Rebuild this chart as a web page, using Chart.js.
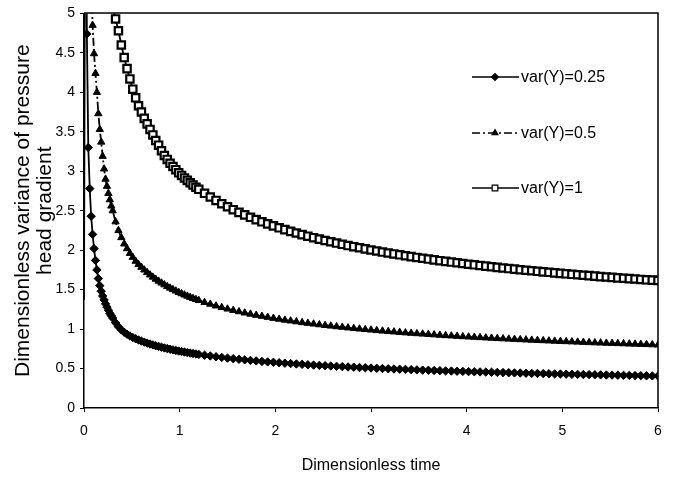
<!DOCTYPE html>
<html><head><meta charset="utf-8">
<script src="https://cdn.jsdelivr.net/npm/chart.js@4/dist/chart.umd.min.js"></script>
<style>html,body{margin:0;padding:0;background:#fff}canvas{display:block}</style>
</head><body>
<canvas id="c" width="674" height="478"></canvas>
<script>
// Dimensionless time (x values)
const times = [0,
 0.015,0.03,0.045,0.06,0.075,0.09,0.105,0.12,0.135,0.15,
 0.165,0.18,0.195,0.21,0.225,0.24,0.255,0.27,0.285,0.30,
 0.33,0.36,0.39,0.42,0.45,0.48,0.51,0.54,0.57,0.60,
 0.63,0.66,0.69,0.72,0.75,0.78,0.81,0.84,0.87,0.90,
 0.93,0.96,0.99,1.02,1.05,1.08,1.11,1.14,1.17,1.20,
 1.26,1.32,1.38,1.44,1.50,1.56,1.62,1.68,1.74,1.80,
 1.86,1.92,1.98,2.04,2.10,2.16,2.22,2.28,2.34,2.40,
 2.46,2.52,2.58,2.64,2.70,2.76,2.82,2.88,2.94,3.00,
 3.06,3.12,3.18,3.24,3.30,3.36,3.42,3.48,3.54,3.60,
 3.66,3.72,3.78,3.84,3.90,3.96,4.02,4.08,4.14,4.20,
 4.26,4.32,4.38,4.44,4.50,4.56,4.62,4.68,4.74,4.80,
 4.86,4.92,4.98,5.04,5.10,5.16,5.22,5.28,5.34,5.40,
 5.46,5.52,5.58,5.64,5.70,5.76,5.82,5.88,5.94,6.00];

const var025 = [1.37,
 8.0,4.74,3.30,2.78,2.43,2.20,2.02,1.87,1.75,1.64,
 1.55,1.48,1.42,1.37,1.32,1.28,1.24,1.20,1.17,1.14,
 1.08,1.03,0.99,0.96,0.935,0.912,0.893,0.877,0.862,0.848,
 0.835,0.822,0.811,0.800,0.789,0.780,0.770,0.761,0.753,0.745,
 0.737,0.729,0.722,0.715,0.709,0.702,0.696,0.690,0.685,0.679,
 0.669,0.659,0.649,0.641,0.632,0.625,0.617,0.610,0.603,0.597,
 0.590,0.584,0.579,0.573,0.568,0.563,0.558,0.553,0.548,0.544,
 0.540,0.536,0.532,0.528,0.524,0.520,0.517,0.513,0.510,0.507,
 0.503,0.500,0.497,0.494,0.491,0.489,0.486,0.483,0.480,0.478,
 0.475,0.473,0.470,0.468,0.466,0.464,0.461,0.459,0.457,0.455,
 0.453,0.451,0.449,0.447,0.445,0.443,0.441,0.439,0.438,0.436,
 0.434,0.432,0.431,0.429,0.427,0.426,0.424,0.423,0.421,0.420,
 0.418,0.417,0.415,0.414,0.413,0.411,0.410,0.408,0.407,0.406];

const var05 = [null,
 null,null,null,null,5.5,4.85,4.49,4.24,4.00,3.73,
 3.53,3.37,3.19,3.03,2.90,2.81,2.72,2.64,2.56,2.50,
 2.36,2.25,2.16,2.08,2.02,1.96,1.91,1.86,1.82,1.784,
 1.750,1.717,1.687,1.659,1.632,1.608,1.584,1.562,1.540,1.520,
 1.501,1.483,1.466,1.449,1.433,1.418,1.403,1.389,1.376,1.363,
 1.338,1.316,1.294,1.274,1.255,1.238,1.221,1.205,1.190,1.176,
 1.163,1.150,1.137,1.126,1.114,1.104,1.093,1.083,1.074,1.065,
 1.056,1.047,1.039,1.031,1.024,1.016,1.009,1.002,0.995,0.989,
 0.982,0.976,0.970,0.965,0.959,0.953,0.948,0.943,0.938,0.933,
 0.928,0.923,0.918,0.914,0.910,0.905,0.901,0.897,0.893,0.889,
 0.885,0.881,0.878,0.874,0.871,0.867,0.864,0.860,0.857,0.854,
 0.851,0.848,0.845,0.842,0.839,0.836,0.833,0.830,0.827,0.825,
 0.822,0.820,0.817,0.815,0.812,0.810,0.807,0.805,0.802,0.800];

const var1 = [null,
 null,null,null,null,null,null,null,null,null,null,
 null,null,null,null,null,null,null,null,null,5.08,
 4.93,4.78,4.60,4.44,4.30,4.17,4.04,3.93,3.83,3.75,
 3.67,3.60,3.53,3.46,3.39,3.33,3.26,3.20,3.15,3.10,
 3.06,3.02,2.98,2.947,2.915,2.884,2.854,2.825,2.797,2.771,
 2.720,2.673,2.630,2.588,2.550,2.513,2.479,2.447,2.416,2.387,
 2.359,2.333,2.308,2.283,2.260,2.238,2.217,2.197,2.177,2.158,
 2.140,2.122,2.106,2.090,2.074,2.058,2.044,2.030,2.016,2.002,
 1.989,1.976,1.964,1.952,1.941,1.929,1.918,1.908,1.897,1.887,
 1.877,1.867,1.858,1.849,1.840,1.831,1.822,1.814,1.806,1.798,
 1.790,1.782,1.774,1.767,1.760,1.752,1.745,1.739,1.732,1.725,
 1.719,1.712,1.706,1.700,1.694,1.688,1.682,1.677,1.671,1.665,
 1.660,1.655,1.649,1.644,1.639,1.634,1.629,1.624,1.620,1.615];

const seriesNames = ['var(Y)=0.25', 'var(Y)=0.5', 'var(Y)=1'];
const xTickValues = [0,1,2,3,4,5,6];
const yTickValues = [0,0.5,1,1.5,2,2.5,3,3.5,4,4.5,5];
const xTitle = 'Dimensionless time';
const yTitle = ['Dimensionless variance of pressure', 'head gradient'];

const FONT = '"Liberation Sans", Arial, Helvetica, sans-serif';
const toPts = arr => times.map((t, i) => ({x: t, y: arr[i]}));

const framePlugin = {
  id: 'frame',
  afterDatasetsDraw(chart) {
    const {ctx, chartArea: a} = chart;
    ctx.save();
    ctx.strokeStyle = '#000';
    ctx.lineWidth = 1.5;
    ctx.beginPath();
    ctx.moveTo(a.left, Math.round(a.top));
    ctx.lineTo(Math.round(a.right), Math.round(a.top));
    ctx.lineTo(Math.round(a.right), a.bottom);
    ctx.stroke();
    ctx.restore();
  }
};

const legendPlugin = {
  id: 'inlegend',
  afterDraw(chart) {
    const ctx = chart.ctx;
    const rows = [77, 133, 188];
    chart.data.datasets.forEach((ds, i) => {
      const y = rows[i];
      ctx.save();
      ctx.strokeStyle = '#000';
      ctx.lineWidth = 1.6;
      ctx.setLineDash(ds.borderDash || []);
      ctx.beginPath(); ctx.moveTo(472, y); ctx.lineTo(519, y); ctx.stroke();
      ctx.setLineDash([]);
      ctx.fillStyle = ds.pointBackgroundColor;
      ctx.strokeStyle = '#000';
      ctx.lineWidth = 1.2;
      Chart.helpers.drawPoint(ctx, {pointStyle: ds.pointStyle, radius: ds.pointStyle === 'rect' ? 4 : 3.4, rotation: 0, borderWidth: 1.2}, 495, y);
      ctx.fillStyle = '#000';
      ctx.font = '16px ' + FONT;
      ctx.textBaseline = 'middle';
      ctx.textAlign = 'left';
      ctx.fillText(ds.label, 521, y + 1);
      ctx.restore();
    });
  }
};

new Chart(document.getElementById('c'), {
  type: 'line',
  data: {
    datasets: [
      {label: seriesNames[0], data: toPts(var025), borderColor: '#000', borderWidth: 1.8,
       pointStyle: 'rectRot', pointRadius: c => c.dataIndex === 0 ? 0 : 4.2,
       pointBackgroundColor: '#000', pointBorderColor: '#000', pointBorderWidth: 1},
      {label: seriesNames[1], data: toPts(var05), borderColor: '#000', borderWidth: 1.8,
       borderDash: [8, 3, 2, 3],
       pointStyle: 'triangle', pointRadius: 4.2,
       pointBackgroundColor: '#000', pointBorderColor: '#000', pointBorderWidth: 1},
      {label: seriesNames[2], data: toPts(var1), borderColor: '#000', borderWidth: 1.8,
       pointStyle: 'rect', pointRadius: 5.2,
       pointBackgroundColor: '#fff', pointBorderColor: '#000', pointBorderWidth: 2.2}
    ]
  },
  options: {
    responsive: false,
    animation: false,
    devicePixelRatio: 1,
    layout: {padding: {left: 0, right: 16, top: 13, bottom: 0}},
    plugins: {legend: {display: false}, tooltip: {enabled: false}},
    elements: {line: {tension: 0}},
    scales: {
      x: {
        type: 'linear', min: 0, max: 6,
        afterBuildTicks: s => { s.ticks = xTickValues.map(v => ({value: v})); },
        afterFit: s => { s.height = 70; },
        ticks: {color: '#000', font: {family: FONT, size: 14}, padding: 11, callback: v => String(v), maxRotation: 0},
        grid: {drawOnChartArea: false, drawTicks: true, tickLength: 4, color: '#000', lineWidth: 1},
        border: {display: true, color: '#000', width: 1.5},
        title: {display: true, text: xTitle, color: '#000', font: {family: FONT, size: 16, lineHeight: 1.2}, padding: {top: 0, bottom: 3}}
      },
      y: {
        type: 'linear', min: 0, max: 5,
        afterBuildTicks: s => { s.ticks = yTickValues.map(v => ({value: v})); },
        afterFit: s => { s.width = 84; },
        ticks: {color: '#000', font: {family: FONT, size: 14}, padding: 5, callback: v => String(v)},
        grid: {drawOnChartArea: false, drawTicks: true, tickLength: 4, color: '#000', lineWidth: 1},
        border: {display: true, color: '#000', width: 1.5},
        title: {display: true, text: yTitle, color: '#000', font: {family: FONT, size: 21, lineHeight: 1.05}, padding: {top: 12, bottom: 0}}
      }
    }
  },
  plugins: [framePlugin, legendPlugin]
});
</script>
</body></html>
